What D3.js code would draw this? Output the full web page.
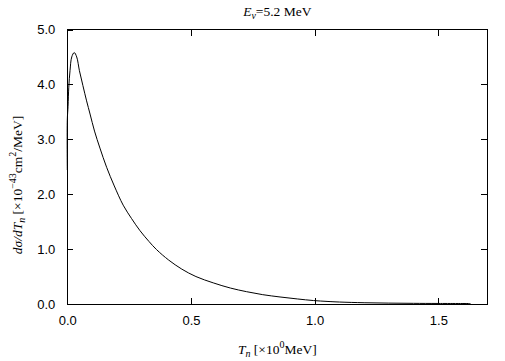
<!DOCTYPE html>
<html>
<head>
<meta charset="utf-8">
<script src="https://cdn.jsdelivr.net/npm/d3@7"></script>
<style>
  body { margin: 0; background: #fff; }
  .tick text { font-family: "Liberation Sans", Arial, sans-serif; font-size: 13px; fill: #000; }
  .lbl { font-family: "Liberation Serif", "Times New Roman", serif; font-size: 13.5px; fill: #000; }
</style>
</head>
<body>
<div id="chart"></div>
<script>
var svgWidth = 505;
var svgHeight = 361;

var margin = { top: 29.5, right: 17.7, bottom: 57, left: 67.3 };
var width = svgWidth - margin.left - margin.right;
var height = svgHeight - margin.top - margin.bottom;

// neutron kinetic energy (MeV) and d(sigma)/dT_n (1e-43 cm^2/MeV)
var tn = [0, 0, 0.003, 0.006, 0.011, 0.018, 0.028, 0.038, 0.049, 0.063, 0.078, 0.092,
  0.11, 0.132, 0.159, 0.19, 0.226, 0.26, 0.294, 0.33, 0.361, 0.41, 0.463, 0.52,
  0.59, 0.66, 0.725, 0.79, 0.86, 0.93, 0.995, 1.05, 1.10, 1.2, 1.3, 1.4, 1.5, 1.63];
var dsig = [2.44, 3.35, 3.6, 3.95, 4.25, 4.5, 4.58, 4.5, 4.25, 3.98, 3.7, 3.46,
  3.15, 2.84, 2.49, 2.15, 1.8, 1.555, 1.335, 1.14, 0.99, 0.8, 0.635, 0.5,
  0.385, 0.29, 0.224, 0.17, 0.128, 0.092, 0.063, 0.047, 0.036, 0.023, 0.016, 0.012, 0.01, 0.009];

var xTicks = [0, 0.5, 1.0, 1.5];
var yTicks = [0, 1, 2, 3, 4, 5];

var svg = d3.select("#chart")
  .append("svg")
  .attr("width", svgWidth)
  .attr("height", svgHeight);

var chartGroup = svg.append("g")
  .attr("transform", `translate(${margin.left}, ${margin.top})`);

var xScale = d3.scaleLinear().domain([0, 1.698]).range([0, width]);
var yScale = d3.scaleLinear().domain([0, 5]).range([height, 0]);

// frame
chartGroup.append("rect")
  .attr("width", width)
  .attr("height", height)
  .attr("fill", "none")
  .attr("stroke", "#000")
  .attr("stroke-width", 1)
  .attr("shape-rendering", "crispEdges");

// axes with inward ticks
var bottomAxis = d3.axisBottom(xScale).tickValues(xTicks).tickFormat(d3.format(".1f"))
  .tickSizeInner(-6).tickSizeOuter(0).tickPadding(12);
var leftAxis = d3.axisLeft(yScale).tickValues(yTicks).tickFormat(d3.format(".1f"))
  .tickSizeInner(-6).tickSizeOuter(0).tickPadding(12);
var topAxis = d3.axisTop(xScale).tickValues(xTicks.slice(1)).tickFormat("")
  .tickSizeInner(-6).tickSizeOuter(0);
var rightAxis = d3.axisRight(yScale).tickValues(yTicks.slice(1, -1)).tickFormat("")
  .tickSizeInner(-6).tickSizeOuter(0);

chartGroup.append("g").attr("transform", `translate(0, ${height})`).call(bottomAxis);
chartGroup.append("g").call(leftAxis);
chartGroup.append("g").call(topAxis);
chartGroup.append("g").attr("transform", `translate(${width}, 0)`).call(rightAxis);

chartGroup.selectAll(".domain").remove();
chartGroup.selectAll(".tick line").attr("stroke", "#000").attr("shape-rendering", "crispEdges");
chartGroup.selectAll(".tick text").attr("fill", "#000");

// curve
var line = d3.line()
  .x(function(d, i) { return xScale(tn[i]); })
  .y(function(d) { return yScale(d); })
  .curve(d3.curveCatmullRom.alpha(0.5));

chartGroup.append("path")
  .datum(dsig)
  .attr("d", line)
  .attr("fill", "none")
  .attr("stroke", "#000")
  .attr("stroke-width", 1);

// title
var title = svg.append("text")
  .attr("class", "lbl")
  .attr("x", margin.left + width / 2)
  .attr("y", 16)
  .attr("text-anchor", "middle");
title.append("tspan").attr("font-style", "italic").text("E");
title.append("tspan").attr("font-style", "italic").attr("font-size", "10px").attr("dy", 3).text("ν");
title.append("tspan").attr("dy", -3).text("=5.2 MeV");

// x label
var xLabel = svg.append("text")
  .attr("class", "lbl")
  .attr("x", margin.left + width / 2)
  .attr("y", 354)
  .attr("text-anchor", "middle");
xLabel.append("tspan").attr("font-style", "italic").text("T");
xLabel.append("tspan").attr("font-style", "italic").attr("font-size", "10px").attr("dy", 3).text("n");
xLabel.append("tspan").attr("dy", -3).text(" [×10");
xLabel.append("tspan").attr("font-size", "10px").attr("dy", -6).text("0");
xLabel.append("tspan").attr("dy", 6).text("MeV]");

// y label
var yLabel = svg.append("text")
  .attr("class", "lbl")
  .attr("transform", "translate(22, 185) rotate(-90)")
  .attr("text-anchor", "middle");
yLabel.append("tspan").attr("font-style", "italic").text("dσ/dT");
yLabel.append("tspan").attr("font-style", "italic").attr("font-size", "10px").attr("dy", 3).text("n");
yLabel.append("tspan").attr("dy", -3).text(" [×10");
yLabel.append("tspan").attr("font-size", "10px").attr("dy", -6).text("−43");
yLabel.append("tspan").attr("dy", 6).text("cm");
yLabel.append("tspan").attr("font-size", "10px").attr("dy", -6).text("2");
yLabel.append("tspan").attr("dy", 6).text("/MeV]");
</script>
</body>
</html>
